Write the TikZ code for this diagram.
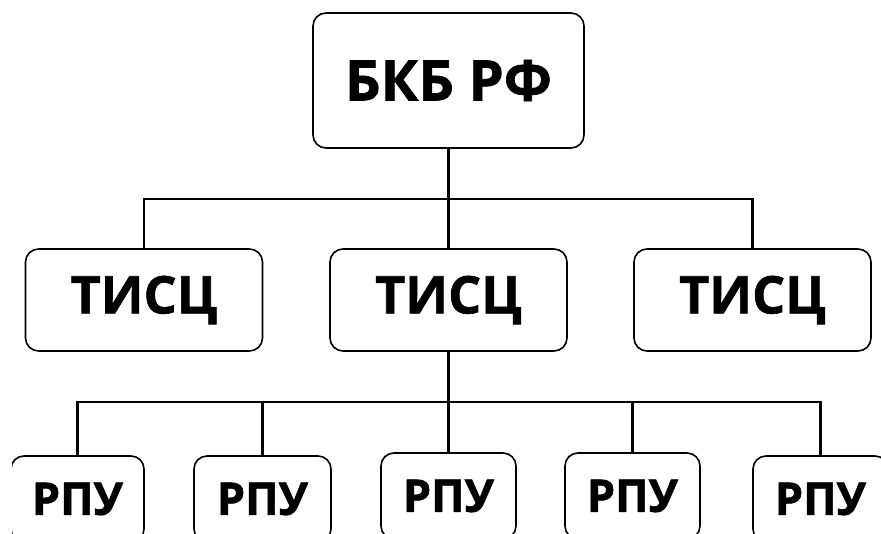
\documentclass[tikz,border=0pt]{standalone}
\usepackage{fontspec}
\setmainfont{Open Sans}[BoldFeatures={FakeBold=1.2}]
\begin{document}
\begin{tikzpicture}[x=1pt,y=-1pt,
  box/.style={draw, line width=1.6pt, rounded corners=13pt, inner sep=0pt, align=center},
  topbox/.style={box, minimum width=271pt, minimum height=135pt, font=\bfseries\fontsize{56}{60}\selectfont},
  midbox/.style={box, minimum width=237pt, minimum height=102pt, font=\bfseries\fontsize{52}{56}\selectfont},
  lowbox/.style={box, minimum width=135pt, minimum height=86pt, font=\bfseries\fontsize{45}{50}\selectfont},
  link/.style={line width=2.8pt}]
\useasboundingbox (0,0) rectangle (881,533);
\fill[white] (0,0) rectangle (881,533);
\begin{scope}
\clip (12,0) rectangle (881,533);
\node[topbox] (top) at (448.5,80.5) {БКБ РФ};
\node[midbox] (t1) at (144,300) {ТИСЦ};
\node[midbox] (t2) at (448.5,300) {ТИСЦ};
\node[midbox] (t3) at (752.5,300) {ТИСЦ};
\node[lowbox, minimum width=133pt] (r1) at (77.5,499) {РПУ};
\node[lowbox, minimum width=137pt] (r2) at (262.5,499) {РПУ};
\node[lowbox] (r3) at (448.5,496) {РПУ};
\node[lowbox] (r4) at (632.5,496) {РПУ};
\node[lowbox] (r5) at (820.5,499) {РПУ};
\coordinate (bus1) at (448.5,199);
\coordinate (bus2) at (448.5,402);
\draw[link] (top.south) -- (bus1);
\draw[link] (bus1) -- (t2.north);
\draw[link] (bus1) -| (t1.north);
\draw[link] (bus1) -| (t3.north);
\draw[link] (t2.south) -- (bus2);
\draw[link] (bus2) -- (r3.north);
\draw[link] (bus2) -| (r1.north);
\draw[link] (bus2) -| (r2.north);
\draw[link] (bus2) -| (r4.north);
\draw[link] (bus2) -| (r5.north);
\end{scope}
\end{tikzpicture}
\end{document}
